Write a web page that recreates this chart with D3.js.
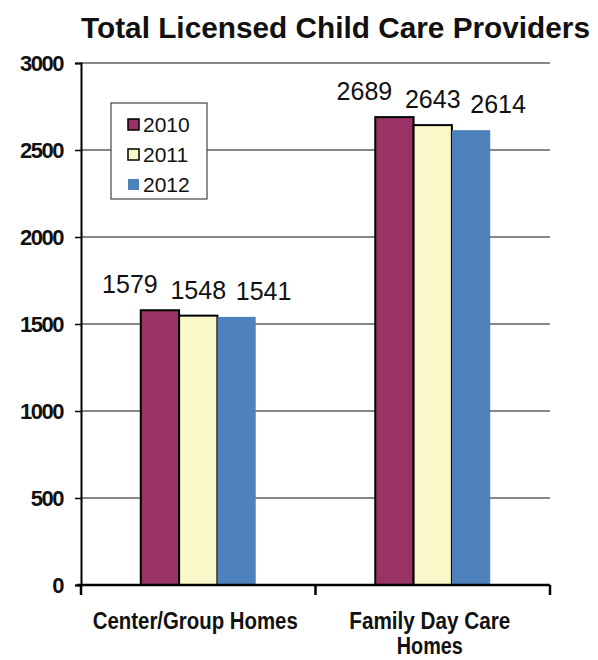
<!DOCTYPE html>
<html>
<head>
<meta charset="utf-8">
<script src="https://cdn.jsdelivr.net/npm/d3@7"></script>
<style>
  body { margin: 0; background: #fff; }
  svg { display: block; font-family: "Liberation Sans", Arial, sans-serif; }
</style>
</head>
<body>
<svg id="chart" width="598" height="660"></svg>
<script>
/*
 * Total Licensed Child Care Providers - grouped bars per provider type and year.
 */

var categories = ['Center/Group Homes', 'Family Day Care Homes'];
var categoryLines = [['Center/Group Homes'], ['Family Day Care', 'Homes']];
var years = ['2010', '2011', '2012'];
var values2010 = [1579, 2689];
var values2011 = [1548, 2643];
var values2012 = [1541, 2614];
var yTicks = [0, 500, 1000, 1500, 2000, 2500, 3000];

var colors = ['#993366', '#FAF7C9', '#4F81BD'];
var strokes = ['#000', '#000', 'none'];
// Excel spreads the value labels apart a bit so they don't overlap
var labelNudge = [-30, 0, 27];

function render() {
  var svg = d3.select('#chart'),
    margin = {top: 63, right: 48, bottom: 75, left: 81},
    width = svg.attr('width') - margin.left - margin.right,
    height = svg.attr('height') - margin.top - margin.bottom;

  var series = [values2010, values2011, values2012];

  var x0 = d3.scaleBand().domain(categories).range([0, width]);
  var x1 = d3.scaleBand().domain(years).range([0, x0.bandwidth()]).paddingOuter(1.56);
  var y = d3.scaleLinear().domain([0, 3000]).range([height, 0]);

  // Title
  svg.append('text')
    .attr('x', 81)
    .attr('y', 38)
    .attr('font-size', 30)
    .attr('font-weight', 'bold')
    .attr('textLength', 509)
    .attr('lengthAdjust', 'spacingAndGlyphs')
    .attr('fill', '#111')
    .text('Total Licensed Child Care Providers');

  var g = svg.append('g')
    .attr('transform', 'translate(' + margin.left + ', ' + margin.top + ')');

  // gridlines
  g.selectAll('.grid')
    .data(yTicks.filter(function(d) { return d > 0; }))
    .enter()
    .append('line')
      .attr('x1', 0)
      .attr('x2', width)
      .attr('y1', function(d) { return y(d); })
      .attr('y2', function(d) { return y(d); })
      .attr('stroke', '#111')
      .attr('stroke-width', 1.2);

  // bars
  var rows = [];
  categories.forEach(function(c, ci) {
    years.forEach(function(yr, si) {
      rows.push({cat: c, year: yr, si: si, value: series[si][ci]});
    });
  });

  g.selectAll('.bar')
    .data(rows)
    .enter()
    .append('rect')
      .attr('x', function(d) { return x0(d.cat) + x1(d.year); })
      .attr('y', function(d) { return y(d.value); })
      .attr('width', x1.bandwidth())
      .attr('height', function(d) { return height - y(d.value); })
      .attr('fill', function(d) { return colors[d.si]; })
      .attr('stroke', function(d) { return strokes[d.si]; })
      .attr('stroke-width', 2);

  // value labels
  g.selectAll('.vlabel')
    .data(rows)
    .enter()
    .append('text')
      .attr('x', function(d) { return x0(d.cat) + x1(d.year) + x1.bandwidth() / 2 + labelNudge[d.si]; })
      .attr('y', function(d) { return y(d.value) - 17; })
      .attr('text-anchor', 'middle')
      .attr('font-size', 25)
      .attr('fill', '#111')
      .text(function(d) { return d.value; });

  // Y Axis
  var yAxis = g.append('g')
    .call(d3.axisLeft(y).tickValues(yTicks).tickSize(6).tickPadding(12).tickFormat(d3.format('d')));
  yAxis.select('.domain').attr('stroke', '#000').attr('stroke-width', 2);
  yAxis.selectAll('.tick line').attr('stroke', '#000').attr('stroke-width', 1.5);
  yAxis.selectAll('.tick text')
    .attr('font-size', 22)
    .attr('font-weight', 'bold')
    .attr('letter-spacing', -1.5)
    .attr('fill', '#111')
    .attr('font-family', '"Liberation Sans", Arial, sans-serif');

  // X Axis
  var xAxis = g.append('g')
    .attr('transform', 'translate(0, ' + height + ')');
  xAxis.append('line')
    .attr('x1', -4).attr('x2', width)
    .attr('stroke', '#000').attr('stroke-width', 2.5);
  xAxis.selectAll('.xtick')
    .data([0, 1, 2])
    .enter()
    .append('line')
      .attr('x1', function(d) { return d * x0.step(); })
      .attr('x2', function(d) { return d * x0.step(); })
      .attr('y1', 0)
      .attr('y2', 10)
      .attr('stroke', '#000')
      .attr('stroke-width', 2.5);

  // category labels, one text per line, squeezed a little
  var lineWidths = {'Center/Group Homes': 205, 'Family Day Care': 161, 'Homes': 66};
  categories.forEach(function(c, i) {
    categoryLines[i].forEach(function(line, li) {
      xAxis.append('text')
        .attr('text-anchor', 'middle')
        .attr('font-size', 23)
        .attr('font-weight', 'bold')
        .attr('fill', '#111')
        .attr('x', x0(c) + x0.bandwidth() / 2 - 3)
        .attr('y', 44 + li * 25)
        .attr('textLength', lineWidths[line])
        .attr('lengthAdjust', 'spacingAndGlyphs')
        .text(line);
    });
  });

  // Legend
  var legend = g.append('g').attr('transform', 'translate(30, 40)');
  legend.append('rect')
    .attr('width', 96)
    .attr('height', 96)
    .attr('fill', '#fff')
    .attr('stroke', '#444')
    .attr('stroke-width', 1.2);
  var items = legend.selectAll('.item')
    .data(years)
    .enter()
    .append('g')
      .attr('transform', function(d, i) { return 'translate(17, ' + (16 + i * 30) + ')'; });
  items.append('rect')
    .attr('width', 11)
    .attr('height', 11)
    .attr('fill', function(d, i) { return colors[i]; })
    .attr('stroke', function(d, i) { return strokes[i]; })
    .attr('stroke-width', 1.5);
  items.append('text')
    .attr('x', 15)
    .attr('y', 13)
    .attr('font-size', 21)
    .attr('fill', '#111')
    .text(function(d) { return d; });
}

render();
</script>
</body>
</html>
